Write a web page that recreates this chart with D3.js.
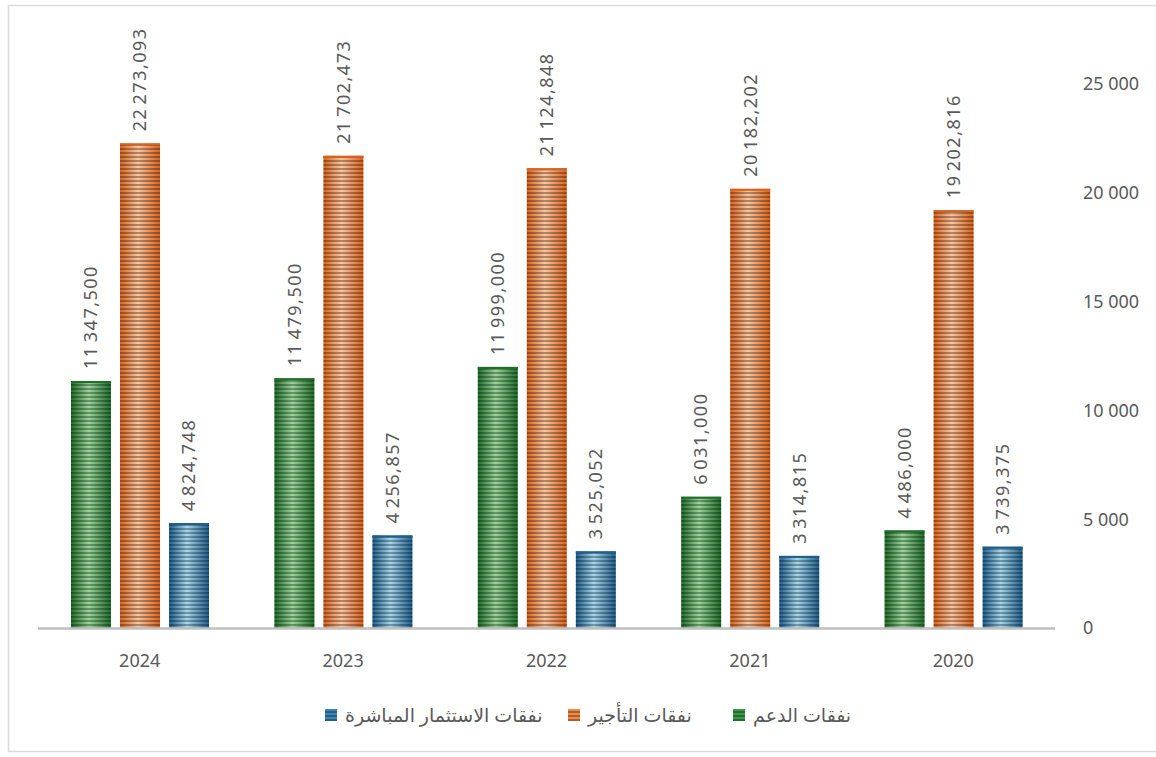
<!DOCTYPE html>
<html>
<head>
<meta charset="utf-8">
<script src="https://cdn.jsdelivr.net/npm/d3@7"></script>
<style>
  body { margin: 0; background: #fff; }
  text { font-family: "Noto Sans", "DejaVu Sans", sans-serif; }
</style>
</head>
<body>
<svg id="chart" width="1156" height="757"></svg>
<script>
// years, right to left as in the reference
const years = ["2024", "2023", "2022", "2021", "2020"];
const seriesNames = ["نفقات الدعم", "نفقات التأجير", "نفقات الاستثمار المباشرة"];
const support = [11347.5, 11479.5, 11999.0, 6031.0, 4486.0];
const leasing = [22273.093, 21702.473, 21124.848, 20182.202, 19202.816];
const investment = [4824.748, 4256.857, 3525.052, 3314.815, 3739.375];
const yTicks = [0, 5000, 10000, 15000, 20000, 25000];

const seriesValues = [support, leasing, investment];
const colors = [
    { dark: "#1f6e2a", mid: "#3a9a46", light: "#9ad59a" },
    { dark: "#d8621c", mid: "#f08a45", light: "#fbc49c" },
    { dark: "#1f5f8c", mid: "#3a86b8", light: "#a5d6ec" }
];

const svg = d3.select("#chart");
const defs = svg.append("defs");

// frame
svg.append("rect")
    .attr("x", 8.5).attr("y", 5.5)
    .attr("width", 1160).attr("height", 746)
    .attr("fill", "none")
    .attr("stroke", "#dcdcdc")
    .attr("stroke-width", 1.5);

const x0 = d3.scaleBand().domain(years).range([38, 1055]).paddingInner(0).paddingOuter(0);
const x1 = d3.scaleBand().domain(d3.range(3)).range([33, 171]).paddingInner(0.185).paddingOuter(0);
const y = d3.scaleLinear().domain([0, 25000]).range([628, 84]);

const thousands = d3.formatLocale({ decimal: ",", thousands: "\u200A", grouping: [3], currency: ["", ""] });
const tickFmt = d3.formatLocale({ decimal: ",", thousands: " ", grouping: [3], currency: ["", ""] }).format(",d");
const labelFmt = thousands.format(",.3f");

// gradients + stripes
colors.forEach((c, i) => {
    const g = defs.append("linearGradient").attr("id", "grad" + i)
        .attr("x1", "0%").attr("x2", "100%").attr("y1", "0%").attr("y2", "0%");
    g.append("stop").attr("offset", "0%").attr("stop-color", c.dark);
    g.append("stop").attr("offset", "45%").attr("stop-color", c.light);
    g.append("stop").attr("offset", "100%").attr("stop-color", c.dark);
});
const stripes = defs.append("pattern").attr("id", "stripes")
    .attr("patternUnits", "userSpaceOnUse").attr("width", 8).attr("height", 4);
stripes.append("rect").attr("x", 0).attr("y", 0).attr("width", 8).attr("height", 2)
    .attr("fill", "rgba(0,0,0,0.3)");

// y axis labels
svg.append("g").selectAll("text")
    .data(yTicks)
    .join("text")
    .attr("x", 1083)
    .attr("y", d => y(d))
    .attr("dy", "0.35em")
    .attr("fill", "#595959")
    .attr("font-size", 18)
    .text(d => tickFmt(d));

// bars
const groups = svg.append("g").selectAll("g")
    .data(years)
    .join("g")
    .attr("transform", d => `translate(${x0(d)},0)`);

groups.each(function (year, yi) {
    const g = d3.select(this);
    seriesValues.forEach((vals, si) => {
        const v = vals[yi];
        const bx = x1(si), bw = x1.bandwidth();
        g.append("rect")
            .attr("x", bx).attr("y", y(v))
            .attr("width", bw).attr("height", y(0) - y(v))
            .attr("fill", `url(#grad${si})`);
        g.append("rect")
            .attr("x", bx).attr("y", y(v))
            .attr("width", bw).attr("height", y(0) - y(v))
            .attr("fill", "url(#stripes)");
        g.append("rect")
            .attr("x", bx).attr("y", y(v))
            .attr("width", bw).attr("height", 2)
            .attr("fill", colors[si].dark);
        g.append("text")
            .attr("transform", `translate(${bx + bw / 2},${y(v) - 12}) rotate(-90)`)
            .attr("dy", "0.35em")
            .attr("fill", "#595959")
            .attr("font-size", 18)
            .attr("letter-spacing", 1.5)
            .text(labelFmt(v));
    });
    g.append("text")
        .attr("x", x0.bandwidth() / 2)
        .attr("y", 661)
        .attr("dy", "0.35em")
        .attr("text-anchor", "middle")
        .attr("fill", "#595959")
        .attr("font-size", 18)
        .text(year);
});

// baseline
svg.append("line")
    .attr("x1", 38).attr("x2", 1055)
    .attr("y1", 628.5).attr("y2", 628.5)
    .attr("stroke", "#bfbfbf").attr("stroke-width", 2.5);

// legend
const legendX = [745, 580, 337]; // right edge of each square
const legend = svg.append("g").selectAll("g")
    .data(seriesNames)
    .join("g")
    .attr("transform", (d, i) => `translate(${legendX[i]},715)`);
legend.append("rect")
    .attr("x", -12).attr("y", -6).attr("width", 12).attr("height", 12)
    .attr("fill", (d, i) => colors[i].mid);
legend.append("rect")
    .attr("x", -12).attr("y", -6).attr("width", 12).attr("height", 12)
    .attr("fill", "url(#stripes)");
legend.append("text")
    .attr("x", 8)
    .attr("dy", "0.35em")
    .attr("fill", "#595959")
    .attr("font-size", 19)
    .attr("direction", "rtl")
    .attr("text-anchor", "end")
    .text(d => d);
</script>
</body>
</html>
